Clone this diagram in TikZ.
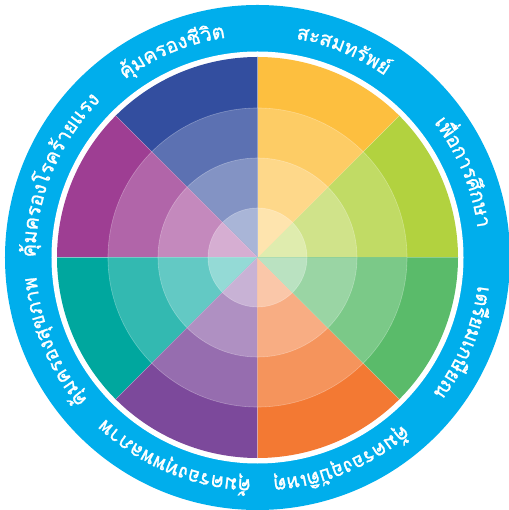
\documentclass[tikz,border=0pt]{standalone}
\usepackage{fontspec}
\newfontfamily\thaifont[Script=Thai,FakeBold=1.2]{Loma}
\definecolor{ringblue}{RGB}{0,174,236}
\definecolor{cNavy}{RGB}{51,78,159}
\definecolor{cYellow}{RGB}{253,191,63}
\definecolor{cLime}{RGB}{178,210,63}
\definecolor{cGreen}{RGB}{90,187,106}
\definecolor{cOrange}{RGB}{243,121,51}
\definecolor{cPurple}{RGB}{124,73,155}
\definecolor{cTeal}{RGB}{0,167,158}
\definecolor{cMagenta}{RGB}{158,62,147}
\newcommand\labfont{\thaifont\fontsize{20}{24}\selectfont}
\newdimen\totwd
\newdimen\accwd
\newdimen\onewd
\newsavebox\clbox
\newcommand\prep[4]{%
  \global\totwd=0pt\relax
  \foreach \cl in {#4}{\sbox\clbox{\labfont\cl}\global\advance\totwd by \wd\clbox\relax}%
  \global\accwd=0pt\relax
  \gdef#1{}%
  \foreach \cl in {#4}{%
    \sbox\clbox{\labfont\cl}\onewd=\wd\clbox\relax
    \pgfmathsetmacro\ang{#2-(\accwd+0.5*\onewd-0.5*\totwd)/(#3)*180/pi}%
    \ifx#1\empty\xdef#1{\ang/\cl}\else\xdef#1{#1,\ang/\cl}\fi
    \global\advance\accwd by \onewd\relax
  }%
}
\tikzset{
  lab/.style={anchor=base, inner sep=0pt, outer sep=0pt, text=white},
  faint/.style={white, opacity=0.3, line width=0.6pt}
}
\newcommand\putlabel[2]{%
  \foreach \a/\cl [count=\k] in #2 {\node[lab, rotate=\a-90] (#1-\k) at (\a:222) {\labfont\cl};}%
}
\begin{document}
\prep\labA{112.5}{222}{คุ้,ม,ค,ร,อ,ง,ชี,วิ,ต}%
\prep\labB{67.5}{222}{ส,ะ,ส,ม,ท,รั,พ,ย์}%
\prep\labC{22.5}{222}{เ,พื่,อ,ก,า,ร,ศึ,ก,ษ,า}%
\prep\labD{-22.5}{222}{เ,ต,รี,ย,ม,เ,ก,ษี,ย,ณ}%
\prep\labE{-67.5}{222}{คุ้,ม,ค,ร,อ,ง,อุ,บั,ติ,เ,ห,ตุ}%
\prep\labF{-112.5}{222}{คุ้,ม,ค,ร,อ,ง,ทุ,พ,พ,ล,ภ,า,พ}%
\prep\labG{-157.5}{222}{คุ้,ม,ค,ร,อ,ง,สุ,ข,ภ,า,พ}%
\prep\labH{157.5}{222}{คุ้,ม,ค,ร,อ,ง,โ,ร,ค,ร้,า,ย,แ,ร,ง}%
\begin{tikzpicture}[x=1pt,y=1pt]
\useasboundingbox (-257.5,-252.5) rectangle (250.5,257.5);
\fill[white] (-257.5,-252.5) rectangle (250.5,257.5);
\fill[ringblue] (0,0) circle (252.5);
\fill[white] (0,0) circle (206);
\foreach \s/\col in {0/cLime,45/cYellow,90/cNavy,135/cMagenta,180/cTeal,225/cPurple,270/cOrange,315/cGreen}{
  \pgfmathsetmacro\e{\s+45}
  \fill[\col] (0,0) -- (\s:200.5) arc[start angle=\s, end angle=\e, radius=200.5] -- cycle;
  \fill[\col!80!white] (0,0) -- (\s:149.5) arc[start angle=\s, end angle=\e, radius=149.5] -- cycle;
  \fill[\col!61!white] (0,0) -- (\s:99.5) arc[start angle=\s, end angle=\e, radius=99.5] -- cycle;
  \fill[\col!42!white] (0,0) -- (\s:49.5) arc[start angle=\s, end angle=\e, radius=49.5] -- cycle;
  \draw[faint] (0,0) -- (\s:200.5);
}
\draw[faint] (0,0) circle (149.5) circle (99.5) circle (49.5);
\putlabel{t1}{\labA}
\putlabel{t2}{\labB}
\putlabel{t3}{\labC}
\putlabel{t4}{\labD}
\putlabel{t5}{\labE}
\putlabel{t6}{\labF}
\putlabel{t7}{\labG}
\putlabel{t8}{\labH}
\end{tikzpicture}
\end{document}
